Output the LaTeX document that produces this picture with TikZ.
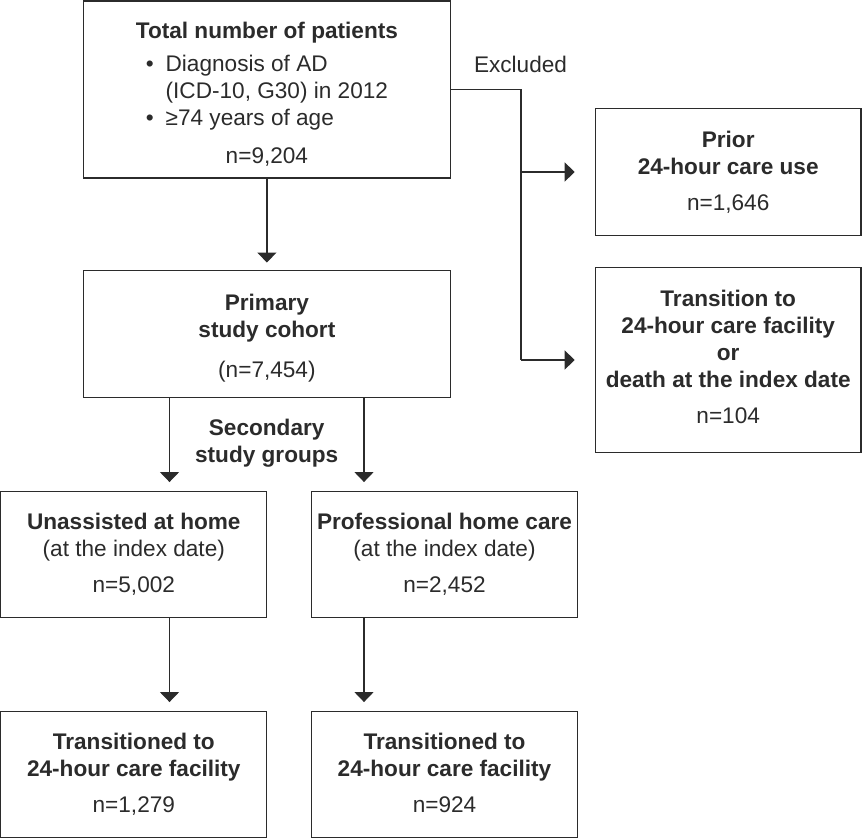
\documentclass[tikz,border=0pt]{standalone}
\usepackage{fontspec}
\setmainfont{Liberation Sans}
\usetikzlibrary{arrows.meta}
\definecolor{ink}{HTML}{2B2B2B}
\tikzset{
  box/.style={draw=ink, line width=1.3pt, align=center, text=ink, inner sep=0pt,
    font=\fontsize{22.6}{27}\selectfont},
  arr/.style={draw=ink, line width=1.3pt, -{Triangle[length=10pt,width=19pt]}},
  conn/.style={draw=ink, line width=1.3pt},
  lbl/.style={text=ink, align=center, inner sep=0pt, font=\fontsize{22.6}{27}\selectfont},
}
\newcommand{\cd}{\vphantom{,}}
\begin{document}
\begin{tikzpicture}[x=1pt,y=-1pt]
\useasboundingbox (0,0) rectangle (862,839);
% boxes
\node[box, minimum width=367pt, minimum height=177pt] (total) at (266.9,89.5)
  {\rule{0pt}{25pt}\textbf{Total number of patients}\\[6pt]
   \begin{tabular}[t]{@{}l@{\hspace{12pt}}l@{}}•&Diagnosis of AD\\ &(ICD-10, G30) in 2012\\ •&≥74 years of age\end{tabular}\\[13pt]
   n=9,204};
\node[box, minimum width=367pt, minimum height=126.6pt] (primary) at (266.9,334)
  {\rule{0pt}{24.5pt}\textbf{Primary}\\\textbf{study cohort}\\[13pt](n=7,454)};
\node[box, minimum width=265.7pt, minimum height=126.6pt] (prior) at (728.2,172)
  {\textbf{Prior}\\\textbf{24-hour care use}\\[9pt]n=1,646};
\node[box, minimum width=265.7pt, minimum height=185.4pt] (trans) at (728.2,360)
  {\textbf{Transition to}\\\textbf{24-hour care facility}\\\textbf{or}\\\textbf{death at the index date}\\[9pt]n=104\rule[-6pt]{0pt}{6pt}};
\node[box, minimum width=266pt, minimum height=126pt] (unas) at (133.8,554.7)
  {\textbf{Unassisted at home}\\(at the index date)\\[9pt]n=5,002};
\node[box, minimum width=266pt, minimum height=126pt] (prof) at (444.5,554.7)
  {\textbf{Professional home care}\\(at the index date)\\[9pt]n=2,452};
\node[box, minimum width=266pt, minimum height=126pt] (tr1) at (133.8,774.7)
  {\textbf{Transitioned to}\\\textbf{24-hour care facility}\\[9pt]n=1,279};
\node[box, minimum width=266pt, minimum height=126pt] (tr2) at (444.5,774.7)
  {\textbf{Transitioned to}\\\textbf{24-hour care facility}\\[9pt]n=924\cd};
% labels
\node[lbl] (excl) at (520.5,64) {Excluded};
\node[lbl] (sec) at (266.7,443.5) {\textbf{Secondary}\\\textbf{study groups}};
% connectors
\coordinate (ex) at (521,89.5);
\coordinate (ca) at (169.5,0);
\coordinate (cb) at (364,0);
\draw[arr, shorten >=7.5pt] (total) -- (primary);
\draw[conn] (total.east) -- (ex) -- (ex |- trans.west);
\draw[arr, shorten >=20pt] (ex |- prior.west) -- (prior.west);
\draw[arr, shorten >=20pt] (ex |- trans.west) -- (trans.west);
\draw[arr, shorten >=9pt] (primary.south -| ca) -- (unas.north -| ca);
\draw[arr, shorten >=9pt] (primary.south -| cb) -- (prof.north -| cb);
\draw[arr, shorten >=9pt] (unas.south -| ca) -- (tr1.north -| ca);
\draw[arr, shorten >=9pt] (prof.south -| cb) -- (tr2.north -| cb);
\end{tikzpicture}
\end{document}
